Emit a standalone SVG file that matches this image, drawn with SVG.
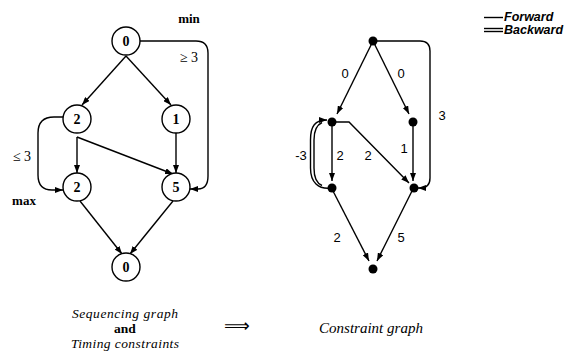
<svg xmlns="http://www.w3.org/2000/svg" width="566" height="356" viewBox="0 0 566 356">
<style>
.n circle{fill:#fff;stroke:#000;stroke-width:1.4}
.n text{font-family:"Liberation Serif",serif;font-size:14px;font-weight:bold;text-anchor:middle}
.d circle{fill:#000}
.e{fill:none;stroke:#000;stroke-width:1.4}
.ea{fill:none;stroke:#000;stroke-width:1.4;marker-end:url(#arr)}
.lbl{font-family:"Liberation Serif",serif;font-size:14px;text-anchor:middle}
.lb{font-family:"Liberation Serif",serif;font-size:13px;font-weight:bold;text-anchor:middle}
.rl{font-family:"Liberation Sans",sans-serif;font-size:13px;text-anchor:middle}
.cap{font-family:"Liberation Serif",serif;font-size:13.5px;font-style:italic;text-anchor:middle}
.and{font-family:"Liberation Serif",serif;font-size:13.5px;font-weight:bold;text-anchor:middle}
.cg{font-family:"Liberation Serif",serif;font-size:15px;font-style:italic;text-anchor:middle}
.leg{font-family:"Liberation Sans",sans-serif;font-size:12.5px;font-style:italic;font-weight:bold}
</style>
<defs>
<marker id="arr" markerUnits="userSpaceOnUse" markerWidth="9" markerHeight="6" refX="8" refY="3" orient="auto">
<path d="M0,0 L8,3 L0,6 z" fill="#000"/>
</marker>
</defs>

<g id="connectors">
<!-- left: sequencing graph -->
<line class="ea" x1="126" y1="56" x2="82" y2="105"/>
<line class="ea" x1="126" y1="56" x2="171" y2="105"/>
<line class="ea" x1="77" y1="137" x2="77" y2="173"/>
<line class="ea" x1="77" y1="137" x2="173" y2="174"/>
<line class="ea" x1="176" y1="133" x2="176" y2="173"/>
<line class="ea" x1="80" y1="201" x2="122" y2="254"/>
<line class="ea" x1="173" y1="201" x2="130" y2="254"/>
<path class="ea" d="M63,117 L54,117 Q38,117 38,133 L38,175 Q38,190 52,190 L63,190"/>
<path class="ea" d="M140,41 L196,41 Q208,41 208,53 L208,176 Q208,189 198,189 L190,189"/>
<!-- right: constraint graph -->
<line class="ea" x1="373" y1="41" x2="337" y2="114"/>
<line class="ea" x1="373" y1="41" x2="409" y2="114"/>
<line class="ea" x1="332" y1="122" x2="332" y2="181"/>
<path class="ea" d="M332,122 L349,122 L409,183"/>
<line class="ea" x1="413" y1="122" x2="413" y2="181"/>
<path class="ea" d="M373,41 L420,41 Q430,41 430,51 L430,178 Q430,188 420,188 L418,188"/>
<line class="ea" x1="333" y1="191" x2="369" y2="261"/>
<line class="ea" x1="412" y1="191" x2="377" y2="261"/>
<path class="ea" d="M332,188 C318,190 310.5,182 310.5,168 L310.5,140 C310.5,126 315,120 327,120"/>
<path class="e" d="M322,185.5 C316,183 314,177 314,168 L314,140 C314,131 316.5,125 322,122.5"/>
<!-- legend -->
<line class="e" x1="484" y1="17.5" x2="503" y2="17.5"/>
<line class="e" x1="484" y1="28.5" x2="503" y2="28.5"/>
<line class="e" x1="484" y1="31.5" x2="503" y2="31.5"/>
</g>

<g id="seq-top" class="n"><circle cx="126" cy="41" r="14"/><text x="126" y="46">0</text></g>
<g id="seq-a" class="n"><circle cx="77" cy="119" r="14"/><text x="77" y="124">2</text></g>
<g id="seq-b" class="n"><circle cx="176" cy="119" r="14"/><text x="176" y="124">1</text></g>
<g id="seq-c" class="n"><circle cx="77" cy="187" r="14"/><text x="77" y="192">2</text></g>
<g id="seq-d" class="n"><circle cx="176" cy="187" r="14"/><text x="176" y="192">5</text></g>
<g id="seq-bot" class="n"><circle cx="126" cy="267" r="14"/><text x="126" y="272">0</text></g>

<g id="cg-top" class="d"><circle cx="373" cy="41" r="4.5"/></g>
<g id="cg-a" class="d"><circle cx="332" cy="122" r="4.5"/></g>
<g id="cg-b" class="d"><circle cx="413" cy="122" r="4.5"/></g>
<g id="cg-c" class="d"><circle cx="332" cy="188" r="4.5"/></g>
<g id="cg-d" class="d"><circle cx="414" cy="188" r="4.5"/></g>
<g id="cg-bot" class="d"><circle cx="373" cy="269" r="4.5"/></g>

<g id="labels">
<text class="lb" x="189" y="23">min</text>
<text class="lbl" x="189" y="62">≥ 3</text>
<text class="lbl" x="22" y="161">≤ 3</text>
<text class="lb" x="24" y="205">max</text>
<text class="rl" x="345" y="78">0</text>
<text class="rl" x="401" y="78">0</text>
<text class="rl" x="442" y="120">3</text>
<text class="rl" x="301" y="160">-3</text>
<text class="rl" x="340" y="160">2</text>
<text class="rl" x="368" y="160">2</text>
<text class="rl" x="404" y="153">1</text>
<text class="rl" x="337" y="242">2</text>
<text class="rl" x="401" y="242">5</text>
<text class="leg" x="504" y="21">Forward</text>
<text class="leg" x="504" y="34">Backward</text>
<text class="cap" x="125" y="318" textLength="106" lengthAdjust="spacing">Sequencing graph</text>
<text class="and" x="125" y="333">and</text>
<text class="cap" x="125" y="348" textLength="108" lengthAdjust="spacing">Timing constraints</text>
<text x="237" y="332" font-family="DejaVu Sans,sans-serif" font-size="18" text-anchor="middle">⟹</text>
<text class="cg" x="371" y="333">Constraint graph</text>
</g>
</svg>
